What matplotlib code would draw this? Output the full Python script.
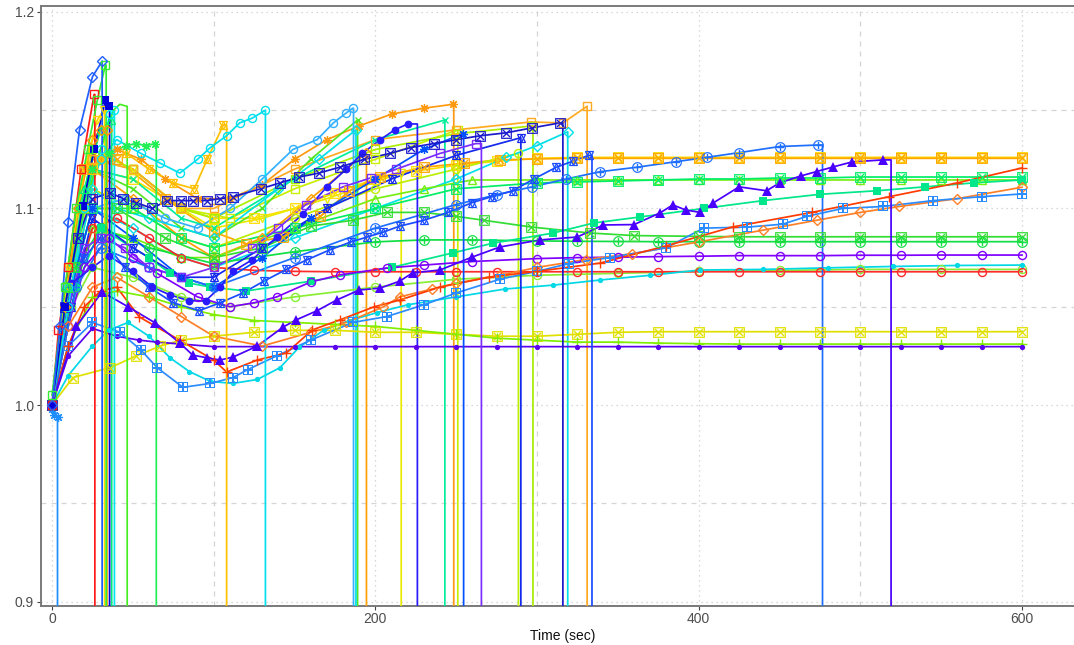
import matplotlib
matplotlib.use("Agg")
import matplotlib.pyplot as plt
from matplotlib.ticker import FixedLocator

plt.rcParams['font.family'] = ['Liberation Sans Narrow', 'Liberation Sans', 'DejaVu Sans']
plt.rcParams['mathtext.fontset'] = 'dejavusans'

# ------------------------------------------------------------------ data
# each run: times (s), ratio values, and the time the run stopped (None = ran to 600 s)
DROP_LEVEL = 0.0   # a stopped run falls to zero

t_a0 = [0, 1.5, 3.4]
v_a0 = [0.998, 0.995, 0.994]
end_a0 = 3.4

t_a1 = [0, 5, 10, 17, 25, 31]
v_a1 = [1.0, 1.04, 1.093, 1.14, 1.167, 1.175]
end_a1 = 31

t_a2 = [0, 8, 15, 22, 28, 33]
v_a2 = [1.005, 1.06, 1.1, 1.13, 1.155, 1.173]
end_a2 = 33.5

t_a3 = [0, 4, 10, 18, 26]
v_a3 = [1.0, 1.038, 1.07, 1.12, 1.158]
end_a3 = 26.5

t_a4 = [0, 8, 19, 26, 33, 35]
v_a4 = [1.0, 1.05, 1.101, 1.13, 1.155, 1.152]
end_a4 = 35.6

t_a5 = [0, 10, 20, 30, 38, 42, 46]
v_a5 = [1.0, 1.06, 1.1, 1.13, 1.15, 1.153, 1.152]
end_a5 = 46.5

t_a6 = [0, 10, 20, 30, 36, 38.5]
v_a6 = [1.0, 1.05, 1.1, 1.13, 1.148, 1.15]
end_a6 = 38.6

t_a7 = [0, 10, 20, 28, 32]
v_a7 = [1.0, 1.07, 1.12, 1.145, 1.15]
end_a7 = 32.5

t_a8 = [0, 8, 16, 25, 30, 34]
v_a8 = [1.0, 1.05, 1.1, 1.135, 1.14, 1.14]
end_a8 = 34

t_a9 = [0, 10, 20, 30, 36.5]
v_a9 = [1.0, 1.06, 1.11, 1.14, 1.145]
end_a9 = 36.9

t_b0 = [0, 8, 16, 25, 35, 46, 52, 58, 64]
v_b0 = [1.0, 1.05, 1.1, 1.12, 1.128, 1.132, 1.133, 1.132, 1.133]
end_b0 = 64.5

t_b1 = [0, 10, 20, 30, 40, 55, 67, 79, 90, 98, 108, 116, 124, 132]
v_b1 = [1.0, 1.06, 1.1, 1.125, 1.135, 1.128, 1.123, 1.118, 1.125, 1.131, 1.137, 1.1435, 1.146, 1.15]
end_b1 = 132

t_b2 = [0, 10, 20, 30, 46, 60, 75, 88, 96, 106]
v_b2 = [1.0, 1.06, 1.1, 1.125, 1.128, 1.12, 1.113, 1.11, 1.125, 1.1425]
end_b2 = 108

t_b3 = [0, 10, 20, 30, 40, 55, 70, 90, 110, 130, 150, 170, 190, 210, 230, 248]
v_b3 = [1.0, 1.05, 1.1, 1.125, 1.13, 1.125, 1.115, 1.105, 1.105, 1.112, 1.125, 1.135, 1.142, 1.148, 1.151, 1.153]
end_b3 = 248.5

t_b4 = [0, 8, 16, 25, 36, 44, 52, 62, 71, 80, 87, 96, 104, 112, 129, 141, 153, 165, 178, 193,
        209, 222, 236, 250, 265, 281, 297, 314]
v_b4 = [1.0, 1.05, 1.085, 1.105, 1.108, 1.105, 1.103, 1.1, 1.104, 1.104, 1.104, 1.104, 1.105, 1.106,
        1.11, 1.113, 1.116, 1.118, 1.121, 1.125, 1.128, 1.131, 1.133, 1.135, 1.137, 1.1385, 1.141, 1.1435]
end_b4 = 316

t_b5 = [0, 10, 20, 30, 45, 60, 80, 100, 124, 140, 157, 180, 197, 213, 240, 262]
v_b5 = [1.0, 1.05, 1.08, 1.085, 1.08, 1.07, 1.065, 1.07, 1.08, 1.09, 1.102, 1.111, 1.1155, 1.12, 1.128, 1.133]
end_b5 = 265.6

t_b6 = [0, 12, 25, 35, 50, 62, 73, 85, 95, 104, 112, 124, 139, 155, 170, 182, 192, 203, 212, 220]
v_b6 = [1.0, 1.062, 1.07, 1.076, 1.068, 1.06, 1.056, 1.053, 1.053, 1.06, 1.068, 1.074, 1.0855, 1.097,
        1.111, 1.12, 1.128, 1.135, 1.14, 1.143]
end_b6 = 226

t_b7 = [0, 10, 20, 30, 45, 60, 75, 91, 104, 118, 131, 145, 158, 172, 185, 195, 205, 215, 230, 245,
        260, 272, 285, 298, 312, 322, 332]
v_b7 = [1.0, 1.05, 1.075, 1.085, 1.07, 1.06, 1.052, 1.048, 1.052, 1.057, 1.063, 1.069, 1.074, 1.079,
        1.083, 1.0855, 1.088, 1.091, 1.094, 1.098, 1.103, 1.106, 1.109, 1.115, 1.121, 1.124, 1.127]
end_b7 = 334

t_b8 = [0, 15, 31, 47, 64, 79, 87, 96, 104, 112, 127, 143, 151, 164, 176, 190, 203, 215, 223, 240,
        260, 277, 302, 325, 341, 360, 376, 384, 392, 401, 409, 425, 442, 450, 463, 473, 483, 495, 514]
v_b8 = [1.0, 1.04, 1.0575, 1.05, 1.0417, 1.0316, 1.0254, 1.024, 1.0229, 1.0244, 1.03, 1.0397, 1.0433,
        1.048, 1.0534, 1.0585, 1.0595, 1.063, 1.0672, 1.0687, 1.0753, 1.0804, 1.084, 1.0855, 1.0916,
        1.0918, 1.0977, 1.1018, 1.0992, 1.098, 1.1028, 1.111, 1.109, 1.113, 1.1165, 1.1188, 1.1211,
        1.1237, 1.1247]
end_b8 = 519

t_c0 = [0, 10, 20, 30, 40, 54, 79, 100, 108, 127, 145, 161, 178, 199, 215, 240, 270, 300, 339, 380,
        421, 470, 518, 560, 600]
v_c0 = [1.0, 1.03, 1.05, 1.058, 1.06, 1.0448, 1.033, 1.0229, 1.0168, 1.0229, 1.0265, 1.0382, 1.0433,
        1.0499, 1.0534, 1.06, 1.065, 1.068, 1.0722, 1.081, 1.0906, 1.098, 1.106, 1.113, 1.1206]
end_c0 = None

t_c1 = [0, 10, 25, 40, 60, 80, 100, 130, 160, 182, 205, 215, 235, 250, 277, 300, 330, 359, 400, 440,
        473, 500, 524, 560, 600]
v_c1 = [1.0, 1.04, 1.06, 1.065, 1.055, 1.045, 1.035, 1.03, 1.037, 1.042, 1.05, 1.055, 1.059, 1.062,
        1.066, 1.07, 1.074, 1.077, 1.083, 1.089, 1.094, 1.098, 1.101, 1.105, 1.1108]
end_c1 = None

t_c2 = [0, 10, 25, 42, 55, 65, 81, 98, 112, 121, 139, 160, 186, 207, 230, 250, 277, 300, 320, 345,
        380, 403, 430, 452, 467, 489, 514, 545, 575, 600]
v_c2 = [1.0, 1.03, 1.042, 1.037, 1.028, 1.019, 1.009, 1.011, 1.014, 1.018, 1.025, 1.033, 1.042, 1.045,
        1.051, 1.057, 1.064, 1.068, 1.072, 1.075, 1.08, 1.09, 1.0905, 1.092, 1.096, 1.1, 1.101, 1.104,
        1.106, 1.1074]
end_c2 = None

t_c3 = [0, 10, 25, 35, 47, 60, 73, 85, 98, 112, 127, 141, 153, 168, 184, 201, 220, 250, 280, 310,
        339, 370, 401, 440, 480, 520, 560, 600]
v_c3 = [1.0, 1.015, 1.03, 1.038, 1.042, 1.035, 1.024, 1.017, 1.012, 1.011, 1.013, 1.019, 1.0295, 1.038,
        1.043, 1.047, 1.051, 1.055, 1.059, 1.061, 1.0636, 1.066, 1.0687, 1.069, 1.0698, 1.0705, 1.071, 1.0712]
end_c3 = None

t_c4 = [0, 10, 25, 40, 54, 65, 80, 100, 125, 150, 175, 200, 225, 250, 275, 300, 325, 350, 375, 400,
        425, 450, 475, 500, 525, 550, 575, 600]
v_c4 = [1.0, 1.025, 1.039, 1.035, 1.033, 1.032, 1.031, 1.0297, 1.0297, 1.0297, 1.0297, 1.0297, 1.0297,
        1.0297, 1.0297, 1.0297, 1.0297, 1.0297, 1.0297, 1.0297, 1.0297, 1.0297, 1.0297, 1.0297, 1.0297,
        1.0297, 1.0297, 1.0297]
end_c4 = None

t_c5 = [0, 13, 36, 52, 67, 80, 100, 125, 150, 175, 200, 225, 250, 275, 300, 325, 350, 375, 400, 425,
        450, 475, 500, 525, 550, 575, 600]
v_c5 = [1.0, 1.014, 1.019, 1.025, 1.03, 1.033, 1.035, 1.037, 1.038, 1.038, 1.037, 1.037, 1.036, 1.035,
        1.035, 1.036, 1.037, 1.0373, 1.0373, 1.0373, 1.0373, 1.0373, 1.0373, 1.0373, 1.0373, 1.0373, 1.0373]
end_c5 = None

t_c6 = [0, 10, 25, 40, 60, 80, 100, 125, 150, 175, 200, 225, 250, 275, 300, 325, 350, 375, 400, 425,
        450, 475, 500, 525, 550, 575, 600]
v_c6 = [1.0, 1.03, 1.055, 1.058, 1.055, 1.05, 1.046, 1.043, 1.042, 1.041, 1.04, 1.038, 1.036, 1.034,
        1.033, 1.032, 1.032, 1.0315, 1.0312, 1.031, 1.031, 1.031, 1.031, 1.031, 1.031, 1.031, 1.031]
end_c6 = None

t_c7 = [0, 10, 20, 35, 50, 65, 90, 110, 125, 139, 160, 178, 207, 230, 260, 300, 325, 350, 375, 400,
        425, 450, 475, 500, 525, 550, 575, 600]
v_c7 = [1.0, 1.04, 1.07, 1.085, 1.075, 1.067, 1.055, 1.05, 1.052, 1.055, 1.0626, 1.0662, 1.0697, 1.0712,
        1.073, 1.0745, 1.075, 1.0752, 1.0755, 1.0757, 1.076, 1.076, 1.076, 1.0762, 1.0762, 1.0763, 1.0763, 1.0763]
end_c7 = None

t_c8 = [0, 10, 25, 40, 60, 80, 100, 125, 150, 175, 200, 225, 250, 275, 300, 325, 350, 375, 400, 425,
        450, 475, 500, 525, 550, 575, 600]
v_c8 = [1.0, 1.05, 1.09, 1.095, 1.085, 1.075, 1.07, 1.0685, 1.068, 1.0678, 1.0678, 1.0678, 1.0678,
        1.0678, 1.0678, 1.0678, 1.0678, 1.0678, 1.0678, 1.0678, 1.0678, 1.0678, 1.0678, 1.0678, 1.0678,
        1.0678, 1.0678]
end_c8 = None

t_c9 = [0, 10, 20, 40, 70, 100, 130, 160, 186, 207, 230, 250, 267, 296, 333, 360, 400, 425, 450, 475,
        500, 525, 550, 575, 600]
v_c9 = [1.0, 1.06, 1.1, 1.1, 1.085, 1.075, 1.08, 1.091, 1.094, 1.098, 1.098, 1.096, 1.094, 1.0906,
        1.0875, 1.0862, 1.0858, 1.0856, 1.0856, 1.0856, 1.0856, 1.0856, 1.0856, 1.0856, 1.0856]
end_c9 = None

t_d0 = [0, 15, 30, 60, 100, 150, 200, 230, 260, 300, 325, 350, 375, 400, 425, 450, 475, 500, 525, 550,
        575, 600]
v_d0 = [1.0, 1.07, 1.09, 1.08, 1.072, 1.078, 1.083, 1.084, 1.084, 1.0835, 1.0833, 1.0832, 1.0831,
        1.0831, 1.0831, 1.0831, 1.0831, 1.0831, 1.0831, 1.0831, 1.0831, 1.0831]
end_d0 = None

t_d1 = [0, 15, 25, 50, 80, 100, 150, 200, 230, 260, 300, 325, 350, 375, 400, 425, 450, 475, 500, 525,
        550, 575, 600]
v_d1 = [1.0, 1.06, 1.09, 1.085, 1.075, 1.075, 1.09, 1.105, 1.11, 1.1145, 1.1145, 1.1145, 1.1145, 1.1145,
        1.1145, 1.1145, 1.1145, 1.1145, 1.1145, 1.1145, 1.1145, 1.1145, 1.1145]
end_d1 = None

t_d2 = [0, 15, 25, 50, 80, 100, 150, 200, 250, 300, 325, 350, 375, 400, 425, 450, 475, 500, 525, 550,
        575, 600]
v_d2 = [1.0, 1.07, 1.1, 1.1, 1.085, 1.08, 1.09, 1.1, 1.11, 1.113, 1.1135, 1.114, 1.1145, 1.115, 1.115,
        1.1155, 1.1155, 1.116, 1.116, 1.116, 1.116, 1.116]
end_d2 = None

t_d3 = [0, 20, 40, 70, 100, 120, 143, 166, 184, 203, 230, 255, 277, 300, 325, 350, 375, 400, 425, 450,
        475, 500, 525, 550, 575, 600]
v_d3 = [1.0, 1.12, 1.125, 1.105, 1.088, 1.082, 1.0855, 1.096, 1.109, 1.116, 1.121, 1.123, 1.1247,
        1.1252, 1.1255, 1.1255, 1.1255, 1.1255, 1.1255, 1.1255, 1.1255, 1.1255, 1.1255, 1.1255, 1.1255, 1.1255]
end_d3 = None

t_d4 = [0, 25, 50, 80, 100, 125, 150, 175, 200, 225, 250, 275, 300, 325, 350, 375, 400, 425, 450, 475,
        500, 525, 550, 575, 600]
v_d4 = [1.0, 1.12, 1.115, 1.1, 1.095, 1.095, 1.1, 1.108, 1.115, 1.119, 1.122, 1.124, 1.1255, 1.126,
        1.126, 1.126, 1.126, 1.126, 1.126, 1.126, 1.126, 1.126, 1.126, 1.126, 1.126]
end_d4 = None

t_d5 = [0, 15, 30, 60, 100, 150, 200, 250, 275, 297, 318, 339, 362, 386, 405, 425, 450, 474]
v_d5 = [1.0, 1.06, 1.08, 1.07, 1.06, 1.075, 1.09, 1.102, 1.107, 1.111, 1.115, 1.1187, 1.121, 1.1238,
        1.126, 1.1284, 1.1315, 1.1323]
end_d5 = 476.6

t_d6 = [0, 15, 30, 60, 73, 85, 98, 120, 160, 210, 248, 273, 310, 335, 364, 403, 440, 475, 510, 540,
        570, 600]
v_d6 = [1.0, 1.06, 1.09, 1.075, 1.067, 1.062, 1.06, 1.058, 1.063, 1.07, 1.0774, 1.0824, 1.0875, 1.0926,
        1.0957, 1.1, 1.104, 1.1072, 1.109, 1.111, 1.113, 1.1145]
end_d6 = None

t_e0 = [0, 12, 25, 45, 70, 90, 110, 130, 149, 164, 174, 182, 186]
v_e0 = [1.0, 1.06, 1.1, 1.105, 1.095, 1.09, 1.1, 1.115, 1.13, 1.135, 1.1435, 1.1486, 1.151]
end_e0 = 186.5

t_e1 = [0, 12, 25, 50, 80, 100, 130, 160, 189]
v_e1 = [1.0, 1.07, 1.12, 1.11, 1.09, 1.085, 1.1, 1.125, 1.145]
end_e1 = 189

t_e2 = [0, 12, 25, 40, 60, 100, 140, 165, 188]
v_e2 = [1.0, 1.06, 1.11, 1.1, 1.095, 1.085, 1.11, 1.125, 1.14]
end_e2 = 188

t_e3 = [0, 12, 25, 50, 80, 100, 130, 160, 194]
v_e3 = [1.0, 1.07, 1.12, 1.105, 1.085, 1.075, 1.085, 1.105, 1.128]
end_e3 = 194.5

t_e4 = [0, 12, 25, 50, 80, 100, 130, 170, 216]
v_e4 = [1.0, 1.07, 1.13, 1.12, 1.1, 1.09, 1.095, 1.105, 1.118]
end_e4 = 216

t_e5 = [0, 12, 25, 50, 80, 100, 150, 200, 243]
v_e5 = [1.0, 1.07, 1.12, 1.115, 1.095, 1.09, 1.115, 1.135, 1.145]
end_e5 = 243

t_e6 = [0, 12, 25, 50, 80, 110, 150, 200, 251]
v_e6 = [1.0, 1.07, 1.125, 1.12, 1.1, 1.095, 1.11, 1.125, 1.14]
end_e6 = 251

t_e7 = [0, 12, 25, 50, 80, 100, 130, 160, 200, 230, 254]
v_e7 = [1.0, 1.06, 1.1, 1.085, 1.065, 1.06, 1.075, 1.095, 1.115, 1.13, 1.138]
end_e7 = 254.6

t_e8 = [0, 12, 25, 50, 80, 100, 130, 170, 210, 250, 290]
v_e8 = [1.0, 1.05, 1.095, 1.08, 1.065, 1.065, 1.08, 1.1, 1.115, 1.127, 1.136]
end_e8 = 290

t_e9 = [0, 12, 25, 50, 80, 100, 150, 200, 250, 297]
v_e9 = [1.0, 1.07, 1.13, 1.12, 1.1, 1.095, 1.115, 1.13, 1.138, 1.142]
end_e9 = 297.5

t_f0 = [0, 12, 25, 50, 80, 100, 150, 200, 250, 296, 316, 331]
v_f0 = [1.0, 1.07, 1.125, 1.12, 1.1, 1.1, 1.12, 1.135, 1.14, 1.144, 1.1435, 1.152]
end_f0 = 331

t_f1 = [0, 12, 25, 50, 80, 100, 150, 200, 250, 281, 300, 319]
v_f1 = [1.0, 1.06, 1.1, 1.09, 1.075, 1.07, 1.085, 1.1, 1.115, 1.126, 1.132, 1.139]
end_f1 = 319

t_f2 = [0, 12, 25, 50, 80, 100, 150, 200, 250, 288]
v_f2 = [1.0, 1.06, 1.11, 1.1, 1.085, 1.08, 1.095, 1.11, 1.12, 1.128]
end_f2 = 288.5

t_f3 = [0, 12, 25, 50, 80, 110, 150, 200, 250, 300, 350, 400, 450, 500, 550, 600]
v_f3 = [1.0, 1.05, 1.07, 1.065, 1.055, 1.05, 1.055, 1.06, 1.064, 1.066, 1.067, 1.068, 1.0685, 1.069,
        1.069, 1.069]
end_f3 = None

x_ticks = [0, 200, 400, 600]
y_ticks = [0.9, 1.0, 1.1, 1.2]
x_label = "Time (sec)"

# ------------------------------------------------------------------ styles (colour, marker kind)
runs = [
    (t_a0, v_a0, end_a0, '#1e8fff', 'ast'),
    (t_b3, v_b3, end_b3, '#ff9a10', 'ast'),
    (t_d4, v_d4, end_d4, '#ffdd00', 'bx'),
    (t_d3, v_d3, end_d3, '#ffa500', 'bx'),
    (t_e4, v_e4, end_e4, '#eaea00', 'v'),
    (t_e6, v_e6, end_e6, '#c8ee00', 's'),
    (t_e9, v_e9, end_e9, '#aaee00', 's'),
    (t_f2, v_f2, end_f2, '#bbee00', 'o'),
    (t_f0, v_f0, end_f0, '#ffaa22', 's'),
    (t_e3, v_e3, end_e3, '#ffa000', 'D'),
    (t_e1, v_e1, end_e1, '#55e622', 'x'),
    (t_e5, v_e5, end_e5, '#00ee99', 'x'),
    (t_e2, v_e2, end_e2, '#00e0e8', 'D'),
    (t_f1, v_f1, end_f1, '#00e0e8', 'D'),
    (t_e0, v_e0, end_e0, '#33b0ff', 'o'),
    (t_d1, v_d1, end_d1, '#77ee11', '^'),
    (t_d2, v_d2, end_d2, '#00ee66', 'bx'),
    (t_c9, v_c9, end_c9, '#33dd33', 'bx'),
    (t_d0, v_d0, end_d0, '#11dd44', 'op'),
    (t_d6, v_d6, end_d6, '#00e68a', 'sf'),
    (t_f3, v_f3, end_f3, '#88ee33', 'o'),
    (t_c8, v_c8, end_c8, '#ff2a2a', 'o'),
    (t_c7, v_c7, end_c7, '#8000ff', 'o'),
    (t_c5, v_c5, end_c5, '#e0e000', 'bx'),
    (t_c6, v_c6, end_c6, '#7fee00', '+'),
    (t_c3, v_c3, end_c3, '#00d8e6', 'dot'),
    (t_c4, v_c4, end_c4, '#5a00ee', 'dot'),
    (t_c1, v_c1, end_c1, '#ff7f27', 'D'),
    (t_c2, v_c2, end_c2, '#2b8cff', 'bp'),
    (t_c0, v_c0, end_c0, '#ff3b00', '+'),
    (t_e7, v_e7, end_e7, '#0050ff', 'ast'),
    (t_e8, v_e8, end_e8, '#1428ee', 'star6'),
    (t_d5, v_d5, end_d5, '#1f6fff', 'op'),
    (t_b7, v_b7, end_b7, '#1a4dff', 'star6'),
    (t_b5, v_b5, end_b5, '#7b2cff', 's'),
    (t_b6, v_b6, end_b6, '#2a1aff', 'dotl'),
    (t_b4, v_b4, end_b4, '#1a1acc', 'bx'),
    (t_b8, v_b8, end_b8, '#4a00ff', '^f'),
    (t_b2, v_b2, end_b2, '#ffc000', 'star6'),
    (t_b1, v_b1, end_b1, '#00e0ee', 'o'),
    (t_b0, v_b0, end_b0, '#22ee55', 'ast'),
    (t_a9, v_a9, end_a9, '#00ee77', '^'),
    (t_a8, v_a8, end_a8, '#ff9900', 'D'),
    (t_a7, v_a7, end_a7, '#ffd700', 'v'),
    (t_a6, v_a6, end_a6, '#00e5f0', 'o'),
    (t_a5, v_a5, end_a5, '#44ee22', None),
    (t_a4, v_a4, end_a4, '#0000dd', 'sf'),
    (t_a3, v_a3, end_a3, '#ff1a1a', 's'),
    (t_a2, v_a2, end_a2, '#33ee33', 's'),
    (t_a1, v_a1, end_a1, '#2060ff', 'D'),
]

MK = {
    'o':    dict(marker='o', ms=5.8, mfc='none', mew=1.0),
    'D':    dict(marker='D', ms=5.0, mfc='none', mew=1.0),
    's':    dict(marker='s', ms=5.4, mfc='none', mew=1.0),
    'sf':   dict(marker='s', ms=5.4, mew=0),
    '^':    dict(marker='^', ms=6.0, mfc='none', mew=1.0),
    '^f':   dict(marker='^', ms=6.5, mew=0),
    'v':    dict(marker='v', ms=6.0, mfc='none', mew=1.0),
    '+':    dict(marker='+', ms=6.5, mew=1.0),
    'x':    dict(marker='x', ms=5.0, mew=1.0),
    'ast':  dict(marker=(8, 2, 0), ms=6.5, mew=0.9),
    'bx':   dict(marker=r'$\boxtimes$', ms=7.8, mew=0),
    'bp':   dict(marker=r'$\boxplus$', ms=7.8, mew=0),
    'op':   dict(marker=r'$\oplus$', ms=7.8, mew=0),
    'dot':  dict(marker='o', ms=3.8, mew=0),
    'dotl': dict(marker='o', ms=5.6, mew=0),
}

# ------------------------------------------------------------------ figure
fig = plt.figure(figsize=(10.74, 6.45), dpi=100)
ax = fig.add_axes([0.0379, 0.0612, 0.9724, 0.9295])
ax.set_xlim(-7, 639)
ax.set_ylim(0.898, 1.203)

for t, v, end, col, mk in runs:
    lt, lv = list(t), list(v)
    if end is not None:
        lt += [end, end]
        lv += [v[-1], DROP_LEVEL]
    ax.plot(lt, lv, color=col, lw=1.25, solid_joinstyle='round', zorder=3)
    if mk is None:
        continue
    if mk == 'star6':
        for m in ('^', 'v'):
            ax.plot(t, v, linestyle='none', marker=m, ms=5.5, mfc='none', mec=col, mew=0.9, zorder=4)
    else:
        kw = dict(MK[mk])
        if 'mfc' not in kw:
            kw['mfc'] = col
        ax.plot(t, v, linestyle='none', mec=col, zorder=4, **kw)

# grid: dotted at labelled ticks, dashed half-way between
ax.xaxis.set_major_locator(FixedLocator(x_ticks))
ax.yaxis.set_major_locator(FixedLocator(y_ticks))
ax.xaxis.set_minor_locator(FixedLocator([100, 300, 500]))
ax.yaxis.set_minor_locator(FixedLocator([0.95, 1.05, 1.15]))
ax.grid(which='major', color='#cccccc', linestyle=(0, (1, 3)), linewidth=0.9)
ax.grid(which='minor', color='#d4d4d4', linestyle=(0, (4, 4)), linewidth=0.9)
ax.set_axisbelow(True)
ax.set_yticklabels(['0.9', '1.0', '1.1', '1.2'])
ax.set_xticklabels([str(x) for x in x_ticks])
ax.tick_params(which='minor', length=0)
ax.tick_params(which='major', length=3, width=0.8, color='#444444', labelsize=10,
               labelcolor='#4d4d4d', pad=2)

for side in ('left', 'bottom', 'top'):
    ax.spines[side].set_color('#7a7a7a')
    ax.spines[side].set_linewidth(1.4)
ax.spines['right'].set_visible(False)

ax.set_xlabel(x_label, fontsize=10, labelpad=2, color='#111111')

fig.savefig('out.png', dpi=100)
